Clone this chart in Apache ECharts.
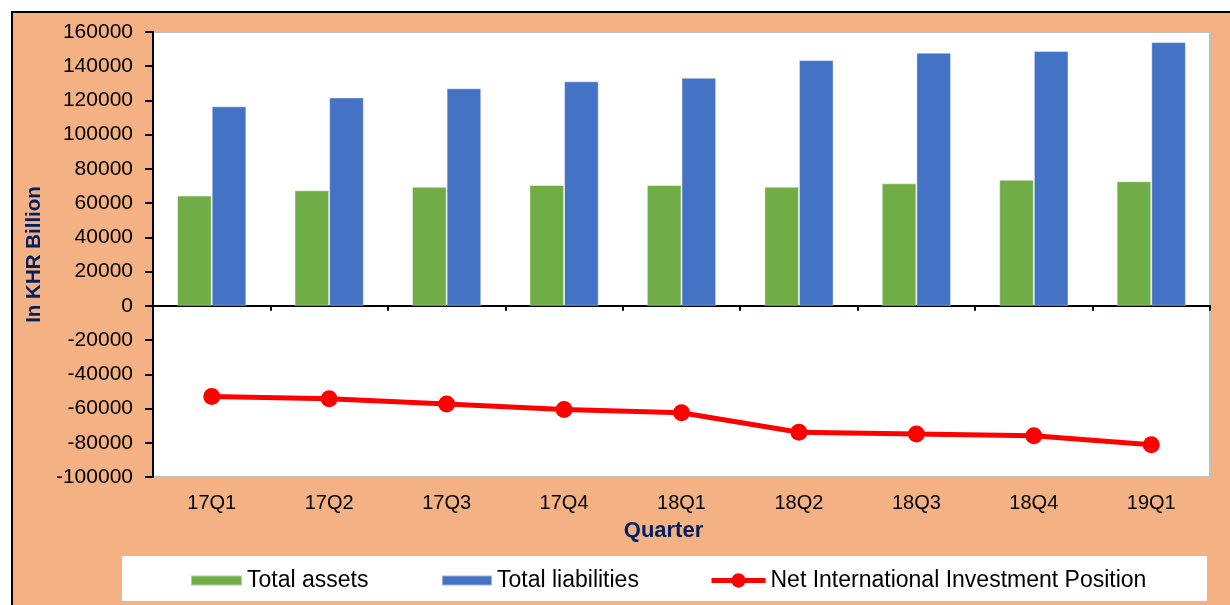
<!DOCTYPE html>
<html>
<head>
<meta charset="utf-8">
<script src="https://cdn.jsdelivr.net/npm/echarts@6/dist/echarts.min.js"></script>
<style>
html,body{margin:0;padding:0;background:#fff;}
#c{width:1230px;height:605px;}
</style>
</head>
<body>
<div id="c"></div>
<script>
var quarters = ['17Q1','17Q2','17Q3','17Q4','18Q1','18Q2','18Q3','18Q4','19Q1'];
var totalAssets = [64400, 67500, 69600, 70600, 70600, 69600, 71600, 73700, 72800];
var totalLiabilities = [116600, 121800, 127100, 131200, 133300, 143600, 147900, 148900, 154100];
var netPosition = [-53000, -54300, -57400, -60500, -62500, -73900, -74900, -75900, -81100];
var yTicks = {min: -100000, max: 160000, interval: 20000};
var seriesNames = ['Total assets', 'Total liabilities', 'Net International Investment Position'];

var chart = echarts.init(document.getElementById('c'), null, {renderer: 'canvas'});
var font = 'Liberation Sans, Arial, sans-serif';
var legendText = {fontFamily: font, fontSize: 23, color: '#000'};
chart.setOption({
  animation: false,
  backgroundColor: '#fff',
  graphic: [
    {type: 'rect', z: -10, shape: {x: 12, y: 12, width: 1230, height: 600},
     style: {fill: '#F4B183', stroke: '#000', lineWidth: 2}},
    {type: 'rect', z: -5, shape: {x: 122, y: 556, width: 1085, height: 45},
     style: {fill: '#fff'}}
  ],
  grid: {left: 153, right: 20, top: 32, bottom: 128, show: true,
         backgroundColor: '#fff', borderColor: '#bfbfbf', borderWidth: 2},
  legend: [
    {left: 190, top: 569, itemWidth: 51, itemHeight: 10, padding: 0,
     textStyle: legendText, data: [{name: seriesNames[0], icon: 'rect'}]},
    {left: 441, top: 569, itemWidth: 50, itemHeight: 10, padding: 0,
     textStyle: legendText, data: [{name: seriesNames[1], icon: 'rect'}]},
    {left: 709, top: 569, itemWidth: 54, itemHeight: 18, padding: 0, itemGap: 0,
     lineStyle: {width: 5},
     textStyle: legendText, data: [seriesNames[2]]}
  ],
  xAxis: [
    {type: 'category', data: quarters, position: 'bottom',
     axisLine: {onZero: true, lineStyle: {color: '#000', width: 2}},
     axisTick: {show: true, length: 5, lineStyle: {color: '#000', width: 2}},
     axisLabel: {show: false}, splitLine: {show: false}},
    {type: 'category', data: quarters, position: 'bottom',
     axisLine: {show: false}, axisTick: {show: false},
     axisLabel: {show: true, margin: 16, fontFamily: font, fontSize: 20, color: '#000'},
     name: 'Quarter', nameLocation: 'middle', nameGap: 43,
     nameTextStyle: {fontFamily: font, fontSize: 22, fontWeight: 'bold', color: '#002060',
                     padding: [0, 36, 0, 0]}}
  ],
  yAxis: {
    type: 'value', min: yTicks.min, max: yTicks.max, interval: yTicks.interval,
    axisLine: {show: true, lineStyle: {color: '#000', width: 2}},
    axisTick: {show: true, length: 8, lineStyle: {color: '#000', width: 2}},
    axisLabel: {margin: 20, fontFamily: font, fontSize: 21, color: '#000',
                formatter: function (v) { return String(v); }},
    splitLine: {show: false},
    name: 'In KHR Billion', nameLocation: 'middle', nameGap: 108,
    nameTextStyle: {fontFamily: font, fontSize: 20.5, fontWeight: 'bold', color: '#002060'}
  },
  series: [
    {name: seriesNames[0], type: 'bar', data: totalAssets, barGap: '0%', barCategoryGap: '41%',
     itemStyle: {color: '#70AD47', borderColor: 'rgba(255,255,255,0.45)', borderWidth: 1}},
    {name: seriesNames[1], type: 'bar', data: totalLiabilities,
     itemStyle: {color: '#4472C4', borderColor: 'rgba(255,255,255,0.45)', borderWidth: 1}},
    {name: seriesNames[2], type: 'line', data: netPosition,
     symbol: 'circle', symbolSize: 17,
     lineStyle: {color: '#FF0000', width: 5}, itemStyle: {color: '#FF0000'}}
  ]
});
</script>
</body>
</html>
